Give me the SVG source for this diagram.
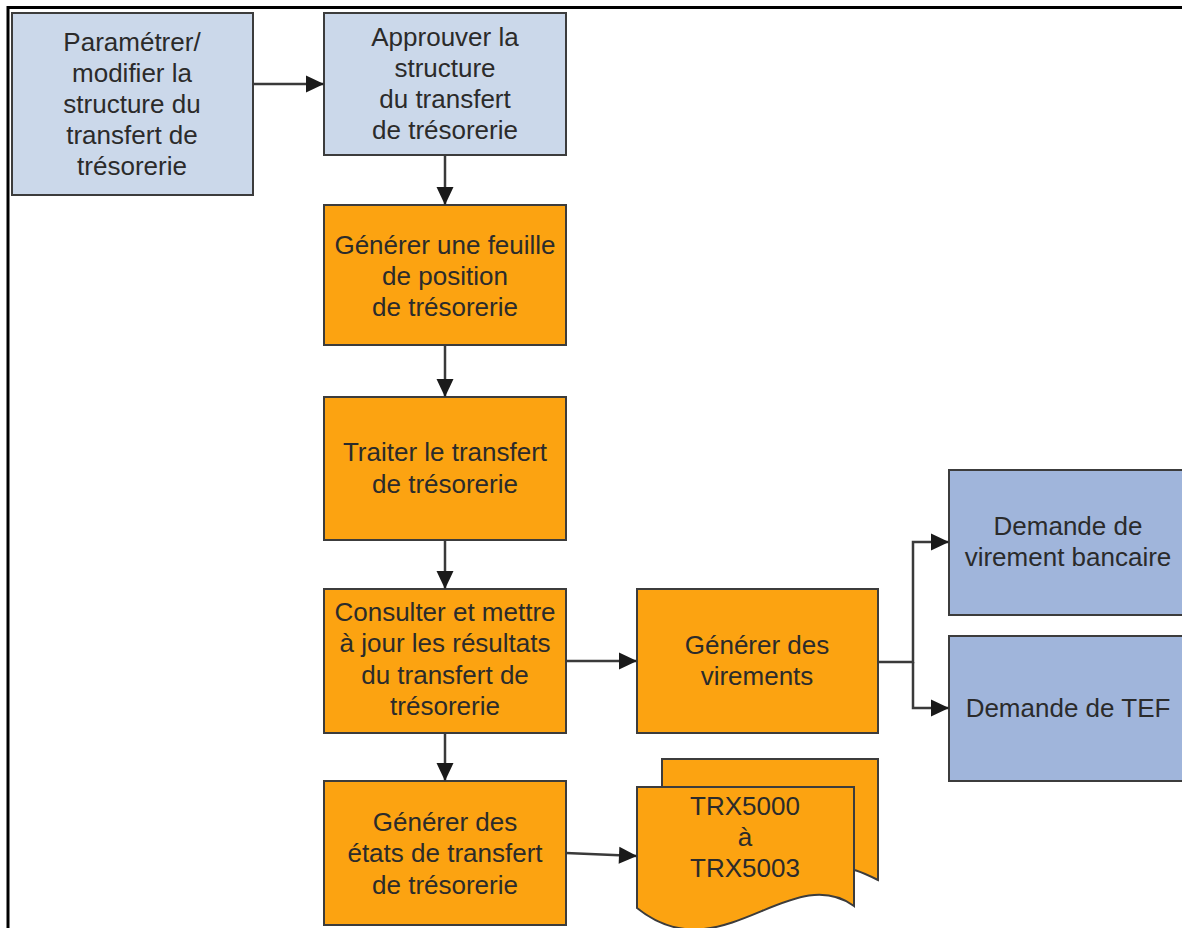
<svg xmlns="http://www.w3.org/2000/svg" width="1182" height="928" viewBox="0 0 1182 928">
<style>
.box{stroke:#3c3c3c;stroke-width:2}
.lb{fill:#CBD8EA}
.or{fill:#FCA311}
.db{fill:#A0B5DB}
.t{font-family:"Liberation Sans",Arial,sans-serif;font-size:26px;fill:#2b2b2b;text-anchor:middle}
.c{stroke:#3a3a3a;stroke-width:2.5;fill:none}
.frame{stroke:#000;stroke-width:3;fill:none}
</style>
<defs>
<marker id="ah" markerUnits="userSpaceOnUse" markerWidth="20" markerHeight="20" viewBox="0 0 20 20" refX="20" refY="10" orient="auto">
<path d="M2,1.5 L20,10 L2,18.5 Z" fill="#1a1a1a"/>
</marker>
</defs>
<rect width="1182" height="928" fill="#fff"/>
<path class="frame" d="M8,928 V7.5 H1182"/>

<g id="n1"><rect class="box lb" x="12" y="13" width="241" height="182"/>
<text class="t" x="132" y="51">Paramétrer/</text><text class="t" x="132" y="82">modifier la</text><text class="t" x="132" y="113">structure du</text><text class="t" x="132" y="144">transfert de</text><text class="t" x="132" y="175">trésorerie</text></g>

<g id="n2"><rect class="box lb" x="324" y="13" width="242" height="142"/>
<text class="t" x="445" y="46">Approuver la</text><text class="t" x="445" y="77">structure</text><text class="t" x="445" y="108">du transfert</text><text class="t" x="445" y="139">de trésorerie</text></g>

<g id="n3"><rect class="box or" x="324" y="205" width="242" height="140"/>
<text class="t" x="445" y="254">Générer une feuille</text><text class="t" x="445" y="285">de position</text><text class="t" x="445" y="316">de trésorerie</text></g>

<g id="n4"><rect class="box or" x="324" y="397" width="242" height="143"/>
<text class="t" x="445" y="461">Traiter le transfert</text><text class="t" x="445" y="493">de trésorerie</text></g>

<g id="n5"><rect class="box or" x="324" y="589" width="242" height="144"/>
<text class="t" x="445" y="621">Consulter et mettre</text><text class="t" x="445" y="652">à jour les résultats</text><text class="t" x="445" y="684">du transfert de</text><text class="t" x="445" y="715">trésorerie</text></g>

<g id="n6"><rect class="box or" x="324" y="781" width="242" height="144"/>
<text class="t" x="445" y="831">Générer des</text><text class="t" x="445" y="862">états de transfert</text><text class="t" x="445" y="894">de trésorerie</text></g>

<g id="n7"><rect class="box or" x="637" y="589" width="241" height="144"/>
<text class="t" x="757" y="654">Générer des</text><text class="t" x="757" y="685">virements</text></g>

<g id="n8"><rect class="box db" x="949" y="470" width="241" height="145"/>
<text class="t" x="1068" y="535">Demande de</text><text class="t" x="1068" y="566">virement bancaire</text></g>

<g id="n9"><rect class="box db" x="949" y="636" width="241" height="145"/>
<text class="t" x="1068" y="717">Demande de TEF</text></g>

<g id="n10">
<path class="box or" d="M662,759 H878 V880 C862,872 850,867 835,867 L662,867 Z"/>
<path class="box or" d="M637,787 H854 V906 C790,860 720,975 637,908 Z"/>
<text class="t" x="745" y="815">TRX5000</text><text class="t" x="745" y="846">à</text><text class="t" x="745" y="877">TRX5003</text></g>

<g id="connectors">
<path class="c" d="M253,84 H324" marker-end="url(#ah)"/>
<path class="c" d="M445,155 V205" marker-end="url(#ah)"/>
<path class="c" d="M445,345 V397" marker-end="url(#ah)"/>
<path class="c" d="M445,540 V589" marker-end="url(#ah)"/>
<path class="c" d="M445,733 V781" marker-end="url(#ah)"/>
<path class="c" d="M566,661 H637" marker-end="url(#ah)"/>
<path class="c" d="M878,662 H913 V542 H949" marker-end="url(#ah)"/>
<path class="c" d="M913,662 V708 H949" marker-end="url(#ah)"/>
<path class="c" d="M566,853 L637,856" marker-end="url(#ah)"/>
</g>
</svg>
